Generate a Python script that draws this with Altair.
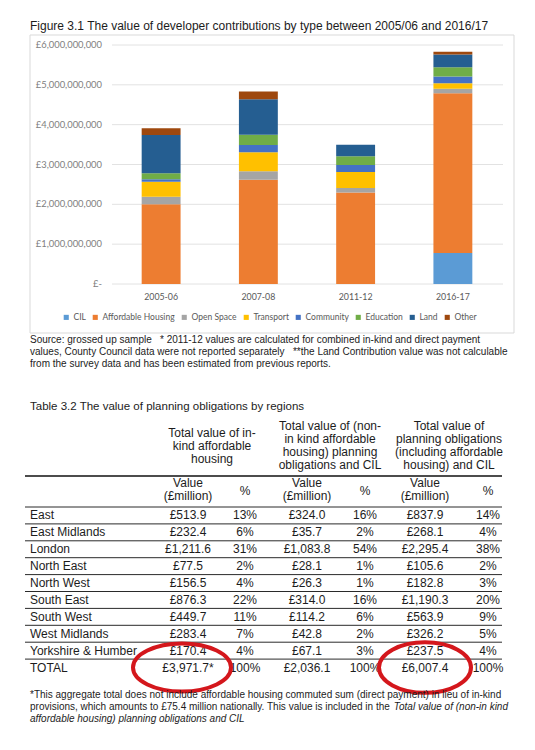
import altair as alt
import pandas as pd

# ---------------- Figure 3.1 data (values in £ billion) ----------------
years = ["2005-06", "2007-08", "2011-12", "2016-17"]
types = ["CIL", "Affordable Housing", "Open Space", "Transport",
         "Community", "Education", "Land", "Other"]
type_colors = ["#5B9BD5", "#ED7D31", "#A5A5A5", "#FFC000",
               "#4472C4", "#70AD47", "#255E91", "#9E480E"]
cil = [0.0, 0.0, 0.0, 0.78]
affordable = [2.00, 2.62, 2.30, 4.01]
open_space = [0.19, 0.21, 0.11, 0.11]
transport = [0.38, 0.48, 0.40, 0.14]
community = [0.06, 0.18, 0.175, 0.17]
education = [0.15, 0.26, 0.22, 0.23]
land = [0.96, 0.89, 0.29, 0.32]
other = [0.17, 0.19, 0.0, 0.07]
series = [cil, affordable, open_space, transport, community, education, land, other]

tick_values = [0, 1e9, 2e9, 3e9, 4e9, 5e9, 6e9]
tick_labels = ["£-", "£1,000,000,000", "£2,000,000,000", "£3,000,000,000",
               "£4,000,000,000", "£5,000,000,000", "£6,000,000,000"]

# ---------------- Table 3.2 data ----------------
regions = ["East", "East Midlands", "London", "North East", "North West",
           "South East", "South West", "West Midlands", "Yorkshire & Humber", "TOTAL"]
inkind_value = [513.9, 232.4, 1211.6, 77.5, 156.5, 876.3, 449.7, 283.4, 170.4, 3971.7]
inkind_pct = [13, 6, 31, 2, 4, 22, 11, 7, 4, 100]
noninkind_value = [324.0, 35.7, 1083.8, 28.1, 26.3, 314.0, 114.2, 42.8, 67.1, 2036.1]
noninkind_pct = [16, 2, 54, 1, 1, 16, 6, 2, 3, 100]
total_value = [837.9, 268.1, 2295.4, 105.6, 182.8, 1190.3, 563.9, 326.2, 237.5, 6007.4]
total_pct = [14, 4, 38, 2, 3, 20, 9, 5, 4, 100]
group_headers = ["Total value of in-\nkind affordable\nhousing",
                 "Total value of (non-\nin kind affordable\nhousing) planning\nobligations and CIL",
                 "Total value of\nplanning obligations\n(including affordable\nhousing) and CIL"]

fig_title = "Figure 3.1 The value of developer contributions by type between 2005/06 and 2016/17"
source_lines = [
    "Source: grossed up sample \u00a0 * 2011-12 values are calculated for combined in-kind and direct payment",
    "values, County Council data were not reported separately \u00a0 **the Land Contribution value was not calculable",
    "from the survey data and has been estimated from previous reports.",
]
table_title = "Table 3.2 The value of planning obligations by regions"
foot1 = "*This aggregate total does not include affordable housing commuted sum (direct payment) in lieu of in-kind"
foot2a = "provisions, which amounts to £75.4 million nationally. This value is included in the "
foot2b = "Total value of (non-in kind"
foot3 = "affordable housing) planning obligations and CIL"

DOC_FONT = "Liberation Sans"
XL_FONT = "Lato"
INK = "#1c1c1c"
TABLE_SIZE = 12

# ---------------- build tables ----------------
bar_rows = []
for k, (t, vals) in enumerate(zip(types, series)):
    for y, v in zip(years, vals):
        bar_rows.append({"year": y, "type": t, "value": v * 1e9, "k": k})
bar_df = pd.DataFrame(bar_rows)
tick_df = pd.DataFrame({"v": tick_values, "label": tick_labels})
year_df = pd.DataFrame({"year": years})

def money(v):
    return "£{:,.1f}".format(v)

v1_txt = [money(v) for v in inkind_value]
v1_txt[-1] += "*"
table_cols = {
    "inkind": v1_txt,
    "inkind_pct": [f"{p}%" for p in inkind_pct],
    "non": [money(v) for v in noninkind_value],
    "non_pct": [f"{p}%" for p in noninkind_pct],
    "total": [money(v) for v in total_value],
    "total_pct": [f"{p}%" for p in total_pct],
}
# column centres (layout, in px)
col_x = {"inkind": 180, "inkind_pct": 237, "non": 299, "non_pct": 357,
         "total": 417, "total_pct": 480}
group_x = [204, 322, 441]

# ---------------- scales ----------------
x_scale = alt.Scale(domain=years, range=[104.5, 493.5], paddingInner=0.6, paddingOuter=0.3)
y_scale = alt.Scale(domain=[0, 6e9], range=[276, 37], nice=False, zero=True)
row_scale = alt.Scale(domain=regions, range=[499, 668], paddingInner=0, paddingOuter=0)

def one(text):
    return pd.DataFrame({"t": [text]})

# ---------------- chart part ----------------
box = alt.Chart(one("")).mark_rect(fillOpacity=0, stroke="#d9d9d9", strokeWidth=1).encode(
    x=alt.value(22), x2=alt.value(506), y=alt.value(27), y2=alt.value(325))

grid = alt.Chart(tick_df).mark_rule(color="#e2e2e2", strokeWidth=1).encode(
    y=alt.Y("v:Q", scale=y_scale, axis=None), x=alt.value(104), x2=alt.value(495))

bars = alt.Chart(bar_df).mark_bar(strokeWidth=0).encode(
    x=alt.X("year:N", scale=x_scale, axis=None, sort=years),
    y=alt.Y("value:Q", scale=y_scale, axis=None, stack="zero"),
    color=alt.Color("type:N", scale=alt.Scale(domain=types, range=type_colors),
                    legend=alt.Legend(orient="none", legendX=54, legendY=305,
                                      direction="horizontal", columns=8, title=None,
                                      symbolType="square", symbolSize=26,
                                      symbolStrokeWidth=0, labelFont=XL_FONT,
                                      labelFontSize=8.5, labelColor="#595959",
                                      columnPadding=5, labelOffset=3, padding=0)),
    order=alt.Order("k:Q", sort="ascending"),
)

ylabels = alt.Chart(tick_df).mark_text(align="right", baseline="middle", font=XL_FONT,
                                       fontSize=9.4, color="#808080").encode(
    y=alt.Y("v:Q", scale=y_scale, axis=None), x=alt.value(94), text="label:N")

xlabels = alt.Chart(year_df).mark_text(baseline="middle", font=XL_FONT, fontSize=8.8,
                                       color="#595959").encode(
    x=alt.X("year:N", scale=x_scale, axis=None, sort=years), y=alt.value(289), text="year:N")

chart_part = alt.layer(box, grid, bars, ylabels, xlabels)

# ---------------- document texts ----------------
def doc_text(text, x, y, size, style="normal", align="left"):
    return alt.Chart(one(text)).mark_text(align=align, baseline="alphabetic", font=DOC_FONT,
                                          fontSize=size, fontStyle=style, color=INK).encode(
        x=alt.value(x), y=alt.value(y), text="t:N")

texts = [doc_text(fig_title, 22, 22, 12)]
for i, line in enumerate(source_lines):
    texts.append(doc_text(line, 22, 334.5 + 12 * i, 10))
texts.append(doc_text(table_title, 22, 402, 11.5))
texts.append(doc_text(foot1, 22, 690, 10))
texts.append(doc_text(foot2a, 22, 702, 10))
texts.append(doc_text(foot2b, 500, 702, 10, style="italic", align="right"))
texts.append(doc_text(foot3, 22, 714, 10, style="italic"))

# ---------------- table part ----------------
hdr_df = pd.DataFrame({"h": group_headers})
hdr_layers = []
for i, gx in enumerate(group_x):
    n_lines = group_headers[i].count("\n") + 1
    top = 419.5 if n_lines == 3 else 413
    hdr_layers.append(
        alt.Chart(hdr_df.iloc[[i]]).mark_text(align="center", baseline="top", font=DOC_FONT,
                                              fontSize=TABLE_SIZE, color=INK, lineBreak="\n",
                                              lineHeight=13).encode(
            x=alt.value(gx), y=alt.value(top), text="h:N"))
for key in ["inkind", "non", "total"]:
    hdr_layers.append(
        alt.Chart(one("Value\n(£million)")).mark_text(align="center", baseline="top", font=DOC_FONT,
                                                     fontSize=TABLE_SIZE, color=INK, lineBreak="\n",
                                                     lineHeight=13).encode(
            x=alt.value(col_x[key]), y=alt.value(470), text="t:N"))
for key in ["inkind_pct", "non_pct", "total_pct"]:
    hdr_layers.append(
        alt.Chart(one("%")).mark_text(align="center", baseline="middle", font=DOC_FONT,
                                      fontSize=TABLE_SIZE, color=INK).encode(
            x=alt.value(col_x[key]), y=alt.value(482.5), text="t:N"))

thick = alt.Chart(one("")).mark_rule(color="#111", strokeWidth=1.6).encode(
    y=alt.value(468), x=alt.value(17), x2=alt.value(494))

row_df = pd.DataFrame({"row": regions})
row_lines = alt.Chart(row_df).mark_rule(color="#2a2a2a", strokeWidth=1).encode(
    y=alt.Y("row:N", scale=row_scale, axis=None, sort=regions, bandPosition=0),
    x=alt.value(17), x2=alt.value(494))

cell_layers = [
    alt.Chart(row_df).mark_text(align="left", baseline="middle", font=DOC_FONT,
                                fontSize=TABLE_SIZE, color=INK).encode(
        y=alt.Y("row:N", scale=row_scale, axis=None, sort=regions),
        x=alt.value(22), text="row:N")
]
for key, vals in table_cols.items():
    d = pd.DataFrame({"row": regions, "txt": vals})
    cell_layers.append(
        alt.Chart(d).mark_text(align="center", baseline="middle", font=DOC_FONT,
                               fontSize=TABLE_SIZE, color=INK).encode(
            y=alt.Y("row:N", scale=row_scale, axis=None, sort=regions),
            x=alt.value(col_x[key]), text="txt:N"))

ELLIPSE_A = "M-1,0 A1,0.49 0 1,1 1,0 A1,0.49 0 1,1 -1,0 Z"
ELLIPSE_B = "M-1,0 A1,0.55 0 1,1 1,0 A1,0.55 0 1,1 -1,0 Z"
ring_layers = []
for key, shape, size, dx in [("inkind", ELLIPSE_A, 98 ** 2, -6), ("total", ELLIPSE_B, 92 ** 2, 0)]:
    d = pd.DataFrame({"row": ["TOTAL"], "col": [key]})
    ring_layers.append(
        alt.Chart(d).mark_point(shape=shape, size=size, filled=False, stroke="#d4171c",
                                strokeWidth=4, opacity=1).encode(
            y=alt.Y("row:N", scale=row_scale, axis=None, sort=regions),
            x=alt.value(col_x[key] + dx)))

table_part = alt.layer(thick, row_lines, *hdr_layers, *cell_layers, *ring_layers)

chart = alt.layer(chart_part, table_part, *texts).resolve_scale(
    x="independent", y="independent", color="independent"
).properties(
    width=519, height=726, padding=0,
    autosize=alt.AutoSizeParams(type="none"),
).configure_view(stroke=None)

chart.save("out.html", embed_options={"renderer": "svg", "actions": False})
